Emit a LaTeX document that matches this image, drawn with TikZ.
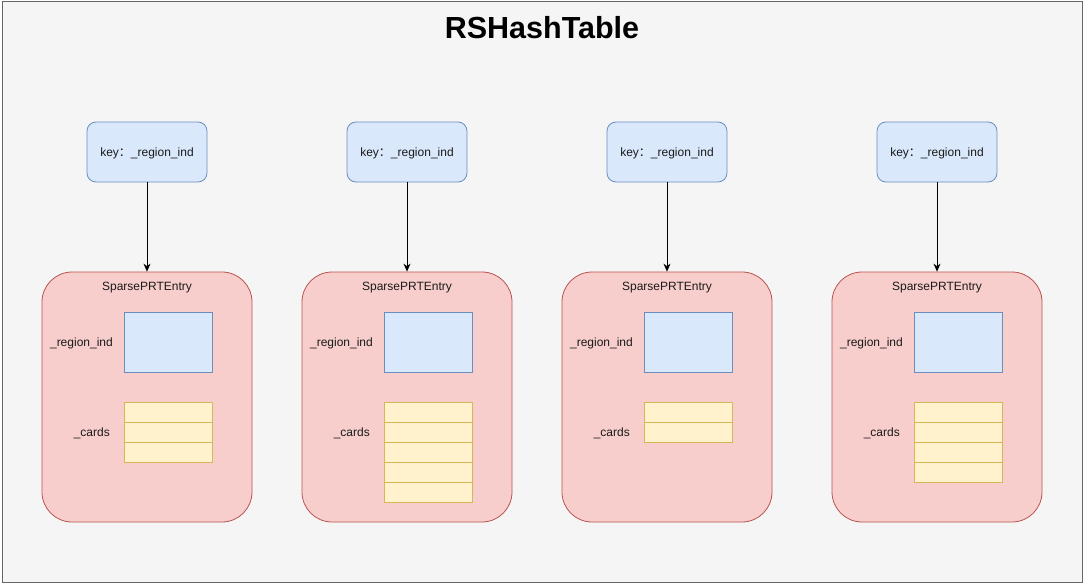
\documentclass[tikz,border=0pt]{standalone}
\usepackage{fontspec}
\setmainfont{Liberation Sans}
\newfontfamily\cjk{Noto Sans CJK SC}
\usetikzlibrary{arrows.meta}
\definecolor{bgfill}{HTML}{F5F5F5}
\definecolor{bgdraw}{HTML}{666666}
\definecolor{bluefill}{HTML}{DAE8FC}
\definecolor{bluedraw}{HTML}{6C8EBF}
\definecolor{redfill}{HTML}{F8CECC}
\definecolor{reddraw}{HTML}{B85450}
\definecolor{yelfill}{HTML}{FFF2CC}
\definecolor{yeldraw}{HTML}{D6B656}
\definecolor{txt}{HTML}{1A1A1A}
\tikzset{
  frame/.style={draw=bgdraw, fill=bgfill, line width=1pt},
  keybox/.style={draw=bluedraw, fill=bluefill, rounded corners=9pt, minimum width=120pt, minimum height=60pt, line width=0.8pt, font=\fontsize{12}{14}\selectfont, text=txt, inner sep=0pt},
  entry/.style={draw=reddraw, fill=redfill, rounded corners=30pt, minimum width=210pt, minimum height=250pt, line width=0.8pt, inner sep=0pt},
  regbox/.style={draw=bluedraw, fill=bluefill, minimum width=88pt, minimum height=60pt, line width=0.8pt, inner sep=0pt},
  card/.style={draw=yeldraw, fill=yelfill, minimum width=88pt, minimum height=20pt, line width=0.8pt, inner sep=0pt},
  lbl/.style={font=\fontsize{12}{14}\selectfont, text=txt, inner sep=0pt},
  conn/.style={draw=black, line width=0.8pt, -{Stealth[length=8pt,width=7pt]}}
}
\begin{document}
\begin{tikzpicture}[x=1pt,y=-1pt]
\useasboundingbox (0,0) rectangle (1085,586);
\node[frame, minimum width=1080pt, minimum height=580pt, inner sep=0pt] (bg) at (542,292) {};
\node[font=\bfseries\fontsize{30.5}{36}\selectfont, text=black, inner sep=0pt] (title) at (542,28) {RSHashTable};
\foreach \cx/\n/\i in {147/3/1, 407/5/2, 667/2/3, 937/4/4} {
  \node[keybox] (k\i) at (\cx,152) {};
  \node[lbl] (kt\i) at (\cx,153) {key{\cjk ：}\_region\_ind};
  \node[entry] (e\i) at (\cx,397) {};
  \node[lbl] (t\i) at (\cx,288) {SparsePRTEntry};
  \node[regbox] (r\i) at (\cx+21,342) {};
  \node[lbl, anchor=east] (rl\i) at (\cx-34,343) {\_region\_ind};
  \foreach \j in {1,...,\n} {
    \node[card] (c\i-\j) at (\cx+21,392+20*\j) {};
  }
  \node[lbl, anchor=east] (cl\i) at (\cx-37,433) {\_cards};
  \draw[conn] (k\i) -- (e\i);
}
\end{tikzpicture}
\end{document}
